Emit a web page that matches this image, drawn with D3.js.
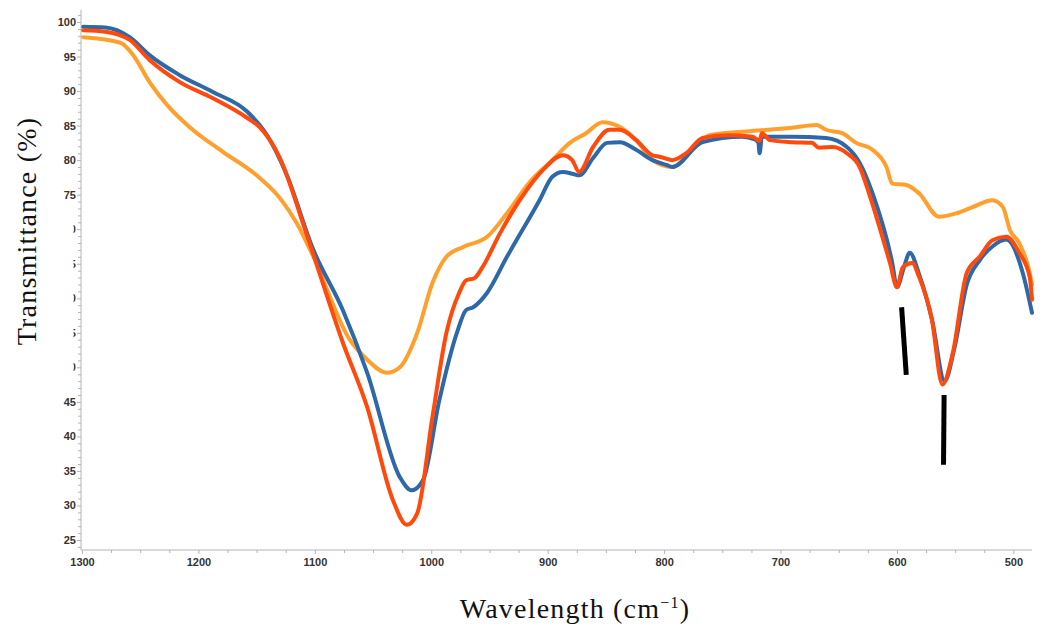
<!DOCTYPE html>
<html>
<head>
	<meta charset="utf-8">
	<title>FTIR transmittance</title>
	<script src="https://cdn.jsdelivr.net/npm/d3@7"></script>
	<style>
		body { margin: 0; background: #fff; }
		.axis path, .axis line { stroke: #b4b4b4; }
		.axis text { font-family: "Liberation Sans", Arial, sans-serif; font-weight: bold; font-size: 11px; fill: #333; }
		.ttl { font-family: "Liberation Serif", "Times New Roman", serif; font-size: 28px; fill: #111; letter-spacing: 1.2px; }
	</style>
</head>
<body>
<script>
	// wavenumber (cm-1)
	var blueW = [1299,1280,1259,1242,1216,1188,1158,1141,1124,1102,1076,1055,1027,1017,1007,993,978,970,964,952,935,907,896,887,878,873,861,849,838,824,810,798,793,767,733,722,719,718,716,690,661,643,632,621,604,600,594,589,581,570,559,551,540,529,518,506,492,484];
	var blueT = [99.3,99.2,97.8,95.2,92.3,89.9,87.0,83.6,77.8,67.3,58.3,49.2,34.1,32.2,33.7,45.3,55.0,58.3,58.7,60.8,66.0,74.2,77.6,78.3,78.0,77.8,80.3,82.5,82.6,81.5,80.0,79.3,79.0,82.6,83.4,83.0,82.5,81.0,83.4,83.4,83.2,81.9,79.6,75.2,65.1,61.6,64.5,66.6,63.5,57.0,48.0,52.5,62.0,65.5,67.5,68.5,63.7,57.9];

	var redW = [1299,1280,1259,1242,1216,1188,1158,1147,1130,1107,1076,1055,1033,1021,1012,999,987,976,970,963,956,941,924,904,887,879,873,861,847,838,824,810,804,793,781,767,746,724,718,716,709,690,673,667,655,643,632,624,615,606,600,595,587,581,570,561,552,540,529,518,506,495,486,484];
	var redT = [98.8,98.6,97.4,94.5,91.3,89.0,86.1,84.7,80.3,69.2,53.6,44.2,30.8,27.2,28.9,42.8,55.0,60.8,62.6,62.9,64.5,69.4,74.2,78.6,80.7,80.0,78.3,81.9,84.4,84.4,82.9,80.7,80.5,80.0,81.0,83.2,83.6,83.4,82.8,83.9,82.9,82.6,82.5,81.8,81.9,81.0,79.0,75.2,70.3,65.1,61.6,64.5,65.1,63.1,56.9,47.5,52.1,63.7,66.0,68.4,68.9,66.6,63.1,59.8];

	var orangeW = [1299,1267,1256,1242,1227,1207,1179,1150,1130,1116,1102,1070,1055,1038,1027,1012,999,987,973,952,935,916,896,881,867,853,838,824,810,793,776,761,733,690,669,661,647,635,621,609,604,592,581,564,549,535,518,509,503,495,486,484];
	var orangeT = [97.8,97.0,95.2,91.3,88.0,84.7,81.2,77.8,74.5,71.0,66.3,54.0,51.1,49.2,50.0,55.0,62.2,66.0,67.4,68.9,72.3,76.7,80.0,82.5,83.9,85.5,84.8,82.9,80.0,79.0,81.5,83.6,84.1,84.7,85.1,84.4,83.9,82.5,81.5,79.0,76.6,76.4,75.2,71.8,72.3,73.2,74.2,73.2,69.9,68.0,63.7,62.0];

	var series = [
		{name: "orange", color: "#ffa02e", w: orangeW, t: orangeT},
		{name: "blue", color: "#2f68a8", w: blueW, t: blueT},
		{name: "red", color: "#ff4a0c", w: redW, t: redT}
	];

	// black marker bars: [w1, t1, w2, t2]
	var markers = [[596, 58.7, 592, 48.9], [559.5, 46.0, 560, 35.9]];

	var xMajor = [1300,1200,1100,1000,900,800,700,600,500];
	var yMajor = [25,30,35,40,45,50,55,60,65,70,75,80,85,90,95,100];

	var width = 1045, height = 630;
	var svg = d3.select("body").append("svg")
		.attr("width", width)
		.attr("height", height);

	var x = d3.scaleLinear().domain([1300, 484]).range([82, 1032]);
	var y = d3.scaleLinear().domain([25, 100]).range([540, 22]);
	var axisX = 81, axisY = 550;

	var xMinor = d3.range(1300, 480, -25).filter(function (d) { return xMajor.indexOf(d) == -1; });
	var yMinor = d3.range(24, 102, 1).filter(function (d) { return yMajor.indexOf(d) == -1; });

	// minor ticks first
	svg.append("g").attr("class", "axis")
		.attr("transform", "translate(0," + axisY + ")")
		.call(d3.axisBottom(x).tickValues(xMinor).tickSize(3).tickFormat(""))
		.select(".domain").remove();
	svg.append("g").attr("class", "axis")
		.attr("transform", "translate(" + axisX + ",0)")
		.call(d3.axisLeft(y).tickValues(yMinor).tickSize(3).tickFormat(""))
		.select(".domain").remove();

	var gx = svg.append("g").attr("class", "axis")
		.attr("transform", "translate(0," + axisY + ")")
		.call(d3.axisBottom(x).tickValues(xMajor).tickFormat(d3.format("d")).tickSize(4).tickPadding(4).tickSizeOuter(0));
	gx.select(".domain").attr("d", "M" + axisX + ",0H" + x.range()[1]);

	var gy = svg.append("g").attr("class", "axis")
		.attr("transform", "translate(" + axisX + ",0)")
		.call(d3.axisLeft(y).tickValues(yMajor).tickFormat(d3.format("d")).tickSize(4).tickPadding(1).tickSizeOuter(0));
	gy.select(".domain").attr("d", "M0,10V" + axisY);

	var line = d3.line()
		.x(function (d) { return x(d[0]); })
		.y(function (d) { return y(d[1]); })
		.curve(d3.curveMonotoneX);

	svg.append("g").selectAll("path")
		.data(series)
		.enter()
		.append("path")
		.attr("d", function (s) {
			return line(s.w.map(function (w, i) { return [w, s.t[i]]; }));
		})
		.attr("fill", "none")
		.attr("stroke", function (s) { return s.color; })
		.attr("stroke-width", 4)
		.attr("stroke-linejoin", "round")
		.attr("stroke-linecap", "round");

	svg.append("g").selectAll("line")
		.data(markers)
		.enter()
		.append("line")
		.attr("x1", function (d) { return x(d[0]); })
		.attr("y1", function (d) { return y(d[1]); })
		.attr("x2", function (d) { return x(d[2]); })
		.attr("y2", function (d) { return y(d[3]); })
		.attr("stroke", "#000")
		.attr("stroke-width", 5);

	// y title pasted over part of the tick labels
	svg.append("rect")
		.attr("x", 0).attr("y", 212)
		.attr("width", 73.5).attr("height", 172)
		.attr("fill", "#fff");
	svg.append("text")
		.attr("class", "ttl")
		.attr("transform", "translate(36,231) rotate(-90)")
		.attr("text-anchor", "middle")
		.text("Transmittance (%)");

	var xt = svg.append("text")
		.attr("class", "ttl")
		.attr("x", 575).attr("y", 618)
		.attr("text-anchor", "middle");
	xt.append("tspan").text("Wavelength (cm");
	xt.append("tspan").attr("font-size", "16px").attr("dy", -10).text("\u22121");
	xt.append("tspan").attr("dy", 10).text(")");
</script>
</body>
</html>
